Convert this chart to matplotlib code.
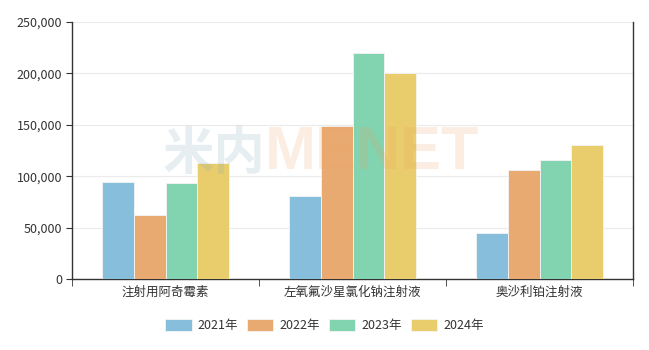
import matplotlib
matplotlib.use("Agg")
import matplotlib.pyplot as plt
import numpy as np
from matplotlib.ticker import FuncFormatter

plt.rcParams['font.family'] = ['Noto Sans CJK SC', 'DejaVu Sans']

categories = ["注射用阿奇霉素", "左氧氟沙星氯化钠注射液", "奥沙利铂注射液"]
series_names = ["2021年", "2022年", "2023年", "2024年"]
v2021 = [94000, 80500, 44500]
v2022 = [62500, 149000, 106500]
v2023 = [93500, 220000, 115500]
v2024 = [112500, 200500, 130000]
values = [v2021, v2022, v2023, v2024]
colors = ["#86bedc", "#e8aa70", "#82d4b0", "#e9cd6c"]

fig = plt.figure(figsize=(6.49, 3.5), dpi=100)
ax = fig.add_axes([72/649, 1-279/350, (633-72)/649, (279-22)/350])

x = np.arange(len(categories))
bw = 0.171
for i, (vals, c) in enumerate(zip(values, colors)):
    ax.bar(x + (i - 1.5) * bw, vals, bw, color=c, edgecolor='#f4f4f4', linewidth=0.6,
           label=series_names[i], zorder=3)

ax.set_xlim(-0.5, 2.5)
ax.set_ylim(0, 250000)
ax.set_yticks(np.arange(0, 250001, 50000))
ax.yaxis.set_major_formatter(FuncFormatter(lambda v, p: f"{int(v):,}"))
ax.set_xticks(x)
ax.set_xticklabels(categories)
ax.set_xticks([-0.5, 0.5, 1.5, 2.5], minor=True)
ax.tick_params(axis='x', which='major', length=0, pad=5, labelsize=9, colors='#333333')
ax.tick_params(axis='x', which='minor', length=5, color='#333333')
ax.tick_params(axis='y', length=4, labelsize=9, colors='#333333', pad=3)
ax.grid(axis='y', color='#ebebeb', linewidth=0.8, zorder=0)
for s in ['left', 'bottom', 'right']:
    ax.spines[s].set_color('#333333')
    ax.spines[s].set_linewidth(1)
ax.spines['top'].set_visible(False)

# watermark
ax.text(0.344, 0.49, "米内", transform=ax.transAxes, fontsize=37, fontweight='bold',
        color='#7fa3b8', alpha=0.18, ha='right', va='center', zorder=4)
ax.text(0.344, 0.49, "MENET", transform=ax.transAxes, fontsize=44, fontweight='bold',
        color='#f0a060', alpha=0.18, ha='left', va='center', zorder=4,
        family='Liberation Sans')

fig.legend(loc='center', bbox_to_anchor=(0.5, 0.071), ncol=4, frameon=False,
           fontsize=9, handlelength=2.1, handleheight=1.1, columnspacing=0.7,
           handletextpad=0.5, labelcolor='#333333')

fig.savefig("out.png", dpi=100)
